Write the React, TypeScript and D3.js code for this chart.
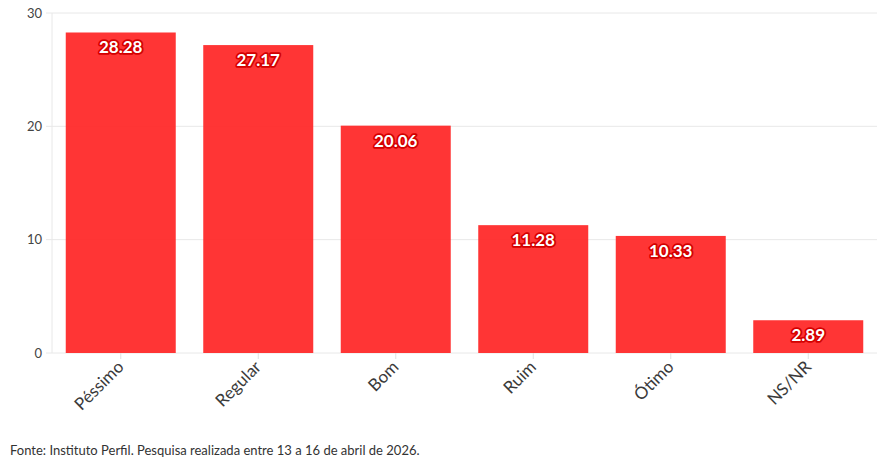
import React from "react";
import * as d3 from "d3";

const categories = ["Péssimo", "Regular", "Bom", "Ruim", "Ótimo", "NS/NR"];
const values = [28.28, 27.17, 20.06, 11.28, 10.33, 2.89];
const yTicks = [0, 10, 20, 30];
const source = "Fonte: Instituto Perfil. Pesquisa realizada entre 13 a 16 de abril de 2026.";

const W = 895, H = 465;
const left = 52, right = 877, top = 13, bottom = 353;
const font = "Lato, 'Noto Sans', sans-serif";

export default function App() {
  const x = d3.scaleBand<string>().domain(categories).range([left, right]).paddingInner(0.2).paddingOuter(0.1);
  const y = d3.scaleLinear().domain([0, 30]).range([bottom, top]);
  return (
    <svg width={W} height={H} style={{ position: "absolute", left: 0, top: 0, background: "#fff" }}>
      {yTicks.map((t) => (
        <g key={t}>
          <line x1={left - 6} x2={right} y1={y(t)} y2={y(t)} stroke="#e8e8e8" />
          <text x={left - 10} y={y(t)} dy="0.35em" textAnchor="end" fontSize={13} fill="#444" fontFamily={font}>{t}</text>
        </g>
      ))}
      <line x1={left} x2={left} y1={top} y2={bottom} stroke="#e8e8e8" />
      {categories.map((c, i) => {
        const cx = x(c)! + x.bandwidth() / 2;
        return (
          <g key={c}>
            <rect x={x(c)} y={y(values[i])} width={x.bandwidth()} height={bottom - y(values[i])} fill="#ff2a2a" fillOpacity={0.95} />
            <line x1={cx} x2={cx} y1={bottom} y2={bottom + 6} stroke="#e0e0e0" />
            <text x={cx + 4} y={bottom + 15} textAnchor="end" fontSize={17} fill="#3a3a3a" fontFamily={font}
              transform={`rotate(-45 ${cx + 4} ${bottom + 15})`}>{c}</text>
            <text x={cx} y={y(values[i]) + 21} textAnchor="middle" fontSize={17} fontWeight={700} fill="#fff"
              stroke="#d40000" strokeWidth={3.5} paintOrder="stroke" strokeLinejoin="round" fontFamily={font}>{values[i].toFixed(2)}</text>
          </g>
        );
      })}
      <text x={10} y={455} fontSize={13} fill="#333" fontFamily={font}>{source}</text>
    </svg>
  );
}
